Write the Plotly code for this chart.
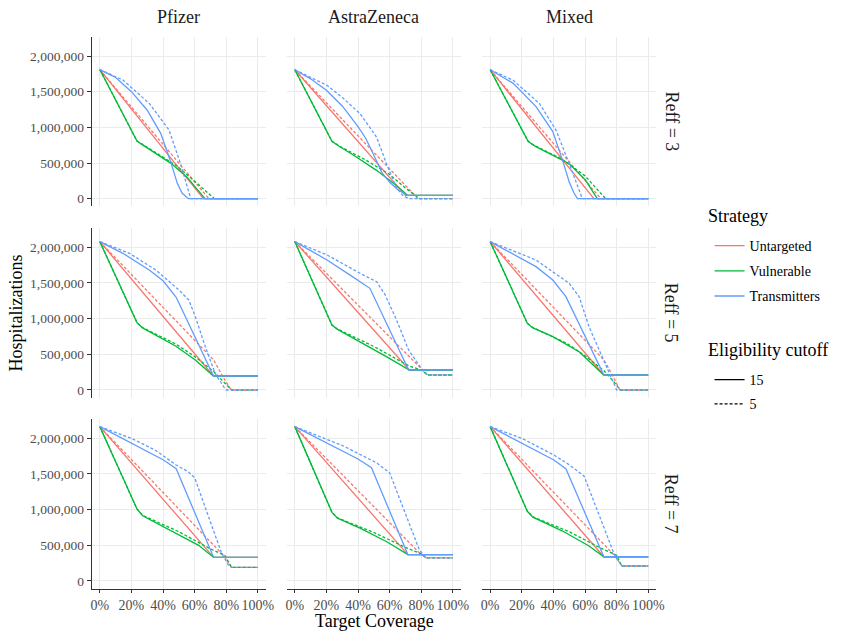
import plotly.graph_objects as go

# ---------------- data (coverage fraction, hospitalizations in thousands) -------------
vaccines = ["Pfizer", "AstraZeneca", "Mixed"]
reffs = [3, 5, 7]
strategies = ["Untargeted", "Vulnerable", "Transmitters"]
cutoffs = [15, 5]
coverage_ticks = [0, 0.2, 0.4, 0.6, 0.8, 1.0]
hosp_ticks = [0, 500000, 1000000, 1500000, 2000000]

# Reff = 3
pf3_unt15 = [(0, 1810), (0.655, 0), (1, 0)]
pf3_unt5 = [(0, 1810), (0.69, 0), (1, 0)]
pf3_vul15 = [(0, 1810), (0.235, 808), (0.28, 740), (0.45, 495), (0.55, 305), (0.665, 0), (1, 0)]
pf3_vul5 = [(0, 1810), (0.235, 808), (0.28, 748), (0.48, 470), (0.6, 245), (0.725, 0), (1, 0)]
pf3_tra15 = [(0, 1810), (0.1, 1700), (0.2, 1500), (0.3, 1240), (0.385, 916), (0.448, 519), (0.49, 215), (0.52, 80), (0.56, 0), (1, 0)]
pf3_tra5 = [(0, 1810), (0.146, 1664), (0.3125, 1336), (0.4375, 963), (0.51, 495), (0.545, 230), (0.575, 0), (1, 0)]

az3_unt15 = [(0, 1808), (0.70, 45), (1, 45)]
az3_unt5 = [(0, 1808), (0.78, 0), (1, 0)]
az3_vul15 = [(0, 1808), (0.235, 804), (0.28, 735), (0.37, 612), (0.517, 397), (0.64, 187), (0.715, 45), (1, 45)]
az3_vul5 = [(0, 1808), (0.235, 804), (0.28, 740), (0.45, 540), (0.6, 340), (0.7, 150), (0.79, 0), (1, 0)]
az3_tra15 = [(0, 1808), (0.1, 1680), (0.2, 1520), (0.3, 1300), (0.4, 1010), (0.45, 840), (0.5, 610), (0.55, 370), (0.6, 230), (0.65, 130), (0.71, 45), (1, 45)]
az3_tra5 = [(0, 1808), (0.204, 1589), (0.3, 1420), (0.4125, 1192), (0.517, 864), (0.58, 490), (0.64, 164), (0.68, 50), (0.72, 0), (1, 0)]

mx3_unt15 = [(0, 1808), (0.656, 0), (1, 0)]
mx3_unt5 = [(0, 1808), (0.70, 0), (1, 0)]
mx3_vul15 = [(0, 1808), (0.24, 804), (0.28, 740), (0.396, 607), (0.5, 490), (0.604, 257), (0.677, 0), (1, 0)]
mx3_vul5 = [(0, 1808), (0.24, 804), (0.28, 745), (0.45, 560), (0.6, 320), (0.73, 0), (1, 0)]
mx3_tra15 = [(0, 1808), (0.146, 1617), (0.29, 1290), (0.396, 940), (0.458, 537), (0.5, 234), (0.53, 80), (0.552, 0), (1, 0)]
mx3_tra5 = [(0, 1808), (0.146, 1659), (0.3125, 1332), (0.417, 958), (0.5, 490), (0.573, 70), (0.583, 0), (1, 0)]

# Reff = 5
pf5_unt15 = [(0, 2080), (0.719, 196), (1, 196)]
pf5_unt5 = [(0, 2080), (0.5625, 794), (0.72, 420), (0.78, 180), (0.83, 0), (1, 0)]
pf5_vul15 = [(0, 2080), (0.235, 944), (0.27, 870), (0.479, 617), (0.604, 421), (0.719, 196), (1, 196)]
pf5_vul5 = [(0, 2080), (0.235, 944), (0.27, 875), (0.48, 645), (0.6, 470), (0.72, 260), (0.78, 120), (0.835, 0), (1, 0)]
pf5_tra15 = [(0, 2080), (0.146, 1916), (0.3125, 1682), (0.4, 1530), (0.483, 1300), (0.719, 196), (1, 196)]
pf5_tra5 = [(0, 2080), (0.1875, 1916), (0.354, 1682), (0.5, 1402), (0.5625, 1262), (0.604, 1028), (0.667, 607), (0.729, 234), (0.79, 23), (0.80, 0), (1, 0)]

az5_unt15 = [(0, 2080), (0.725, 280), (1, 280)]
az5_unt5 = [(0, 2080), (0.8, 300), (0.84, 210), (1, 210)]
az5_vul15 = [(0, 2080), (0.235, 911), (0.27, 850), (0.4125, 678), (0.579, 467), (0.725, 280), (1, 280)]
az5_vul5 = [(0, 2080), (0.235, 911), (0.27, 855), (0.5, 610), (0.72, 340), (0.8, 280), (0.84, 210), (1, 210)]
az5_tra15 = [(0, 2080), (0.204, 1823), (0.35, 1610), (0.475, 1425), (0.72, 280), (1, 280)]
az5_tra5 = [(0, 2080), (0.204, 1893), (0.4125, 1636), (0.517, 1519), (0.57, 1340), (0.64, 1000), (0.72, 560), (0.8, 300), (0.84, 210), (1, 210)]

mx5_unt15 = [(0, 2080), (0.719, 210), (1, 210)]
mx5_unt5 = [(0, 2080), (0.56, 800), (0.72, 420), (0.78, 180), (0.82, 0), (1, 0)]
mx5_vul15 = [(0, 2080), (0.235, 935), (0.27, 870), (0.396, 748), (0.5625, 537), (0.719, 210), (1, 210)]
mx5_vul5 = [(0, 2080), (0.235, 935), (0.27, 875), (0.48, 660), (0.6, 480), (0.72, 270), (0.78, 120), (0.823, 0), (1, 0)]
mx5_tra15 = [(0, 2080), (0.29, 1729), (0.396, 1542), (0.479, 1308), (0.719, 210), (1, 210)]
mx5_tra5 = [(0, 2080), (0.29, 1822), (0.5, 1495), (0.5625, 1308), (0.625, 888), (0.708, 467), (0.79, 47), (0.80, 0), (1, 0)]

# Reff = 7
pf7_unt15 = [(0, 2164), (0.72, 330), (1, 330)]
pf7_unt5 = [(0, 2164), (0.79, 340), (0.833, 190), (1, 190)]
pf7_vul15 = [(0, 2164), (0.235, 1009), (0.271, 915), (0.458, 700), (0.625, 500), (0.72, 330), (1, 330)]
pf7_vul5 = [(0, 2164), (0.235, 1009), (0.271, 920), (0.5, 690), (0.7, 450), (0.79, 360), (0.833, 190), (1, 190)]
pf7_tra15 = [(0, 2164), (0.25, 1870), (0.4, 1700), (0.483, 1573), (0.7125, 343), (0.72, 330), (1, 330)]
pf7_tra5 = [(0, 2164), (0.2, 2000), (0.354, 1830), (0.483, 1625), (0.56, 1530), (0.6, 1446), (0.77, 390), (0.8125, 225), (0.833, 190), (1, 190)]

az7_unt15 = [(0, 2164), (0.715, 370), (1, 370)]
az7_unt5 = [(0, 2164), (0.79, 390), (0.83, 325), (1, 325)]
az7_vul15 = [(0, 2164), (0.235, 962), (0.27, 880), (0.4125, 742), (0.579, 554), (0.715, 370), (1, 370)]
az7_vul5 = [(0, 2164), (0.235, 962), (0.27, 885), (0.5, 680), (0.7, 470), (0.8, 380), (0.83, 325), (1, 325)]
az7_tra15 = [(0, 2164), (0.25, 1880), (0.4, 1710), (0.485, 1587), (0.715, 370), (1, 370)]
az7_tra5 = [(0, 2164), (0.308, 1892), (0.517, 1657), (0.6, 1516), (0.7875, 437), (0.83, 325), (1, 325)]

mx7_unt15 = [(0, 2164), (0.719, 340), (1, 340)]
mx7_unt5 = [(0, 2164), (0.79, 350), (0.833, 210), (1, 210)]
mx7_vul15 = [(0, 2164), (0.235, 977), (0.27, 895), (0.458, 700), (0.625, 490), (0.719, 340), (1, 340)]
mx7_vul5 = [(0, 2164), (0.235, 977), (0.27, 900), (0.5, 690), (0.7, 460), (0.8, 360), (0.833, 210), (1, 210)]
mx7_tra15 = [(0, 2164), (0.25, 1870), (0.4, 1700), (0.479, 1573), (0.719, 340), (1, 340)]
mx7_tra5 = [(0, 2164), (0.2, 2000), (0.4, 1770), (0.5, 1630), (0.594, 1469), (0.79, 343), (0.833, 210), (1, 210)]

series = {
    ("Pfizer", 3): [pf3_unt15, pf3_unt5, pf3_vul15, pf3_vul5, pf3_tra15, pf3_tra5],
    ("AstraZeneca", 3): [az3_unt15, az3_unt5, az3_vul15, az3_vul5, az3_tra15, az3_tra5],
    ("Mixed", 3): [mx3_unt15, mx3_unt5, mx3_vul15, mx3_vul5, mx3_tra15, mx3_tra5],
    ("Pfizer", 5): [pf5_unt15, pf5_unt5, pf5_vul15, pf5_vul5, pf5_tra15, pf5_tra5],
    ("AstraZeneca", 5): [az5_unt15, az5_unt5, az5_vul15, az5_vul5, az5_tra15, az5_tra5],
    ("Mixed", 5): [mx5_unt15, mx5_unt5, mx5_vul15, mx5_vul5, mx5_tra15, mx5_tra5],
    ("Pfizer", 7): [pf7_unt15, pf7_unt5, pf7_vul15, pf7_vul5, pf7_tra15, pf7_tra5],
    ("AstraZeneca", 7): [az7_unt15, az7_unt5, az7_vul15, az7_vul5, az7_tra15, az7_tra5],
    ("Mixed", 7): [mx7_unt15, mx7_unt5, mx7_vul15, mx7_vul5, mx7_tra15, mx7_tra5],
}

# ---------------- styling ----------------
W, H = 850, 637
FONT = "Liberation Serif, Times New Roman, serif"
colors = {"Untargeted": "#F8766D", "Vulnerable": "#00BA38", "Transmitters": "#619CFF"}
dashes = {15: "solid", 5: "3px,2px"}
col_px = [(92, 268), (289.3, 465.3), (487, 663)]
row_px = [(36.6, 206.4), (227.9, 397.7), (418.9, 588.7)]


def px(x):
    return x / W


def py(y):
    return 1 - y / H


ymax = max(v for lst in series.values() for s in lst for _, v in s) * 1000
yrange = [-0.05 * ymax, 1.05 * ymax]

fig = go.Figure()
layout = {}
for r, reff in enumerate(reffs):
    for c, vac in enumerate(vaccines):
        i = r * 3 + c + 1
        xa = "x" if i == 1 else f"x{i}"
        ya = "y" if i == 1 else f"y{i}"
        k = 0
        for strat in strategies:
            for cut in cutoffs:
                pts = series[(vac, reff)][k]
                k += 1
                fig.add_trace(go.Scatter(
                    x=[p[0] for p in pts], y=[p[1] * 1000 for p in pts],
                    mode="lines", xaxis=xa, yaxis=ya, showlegend=False,
                    line=dict(color=colors[strat], width=1.3, dash=dashes[cut]),
                    name=f"{strat} ({cut})", hoverinfo="skip"))
        x0, x1 = col_px[c]
        y0, y1 = row_px[r]
        bottom = r == 2
        left = c == 0
        layout["xaxis" if i == 1 else f"xaxis{i}"] = dict(
            domain=[px(x0), px(x1)], anchor=ya, range=[-0.05, 1.05],
            tickvals=coverage_ticks, tickformat=".0%",
            showgrid=True, gridcolor="#EBEBEB", gridwidth=1.2, zeroline=False,
            showticklabels=bottom, ticks="outside" if bottom else "",
            ticklen=3, tickcolor="#333333", tickwidth=1,
            showline=bottom, linecolor="#333333", linewidth=1.2,
            tickfont=dict(family=FONT, size=14, color="#4D4D4D"))
        layout["yaxis" if i == 1 else f"yaxis{i}"] = dict(
            domain=[py(y1), py(y0)], anchor=xa, range=yrange,
            tickvals=hosp_ticks, tickformat=",d",
            showgrid=True, gridcolor="#EBEBEB", gridwidth=1.2, zeroline=False,
            showticklabels=left, ticks="outside" if left else "",
            ticklen=4, tickcolor="#333333", tickwidth=1,
            showline=left, linecolor="#333333", linewidth=1.2,
            tickfont=dict(family=FONT, size=13.5, color="#4D4D4D"))

# legend entries
for j, strat in enumerate(strategies):
    fig.add_trace(go.Scatter(x=[None], y=[None], mode="lines", name=strat,
                             line=dict(color=colors[strat], width=1.3),
                             legend="legend", legendgroup=f"s{j}", showlegend=True))
for j, cut in enumerate(cutoffs):
    fig.add_trace(go.Scatter(x=[None], y=[None], mode="lines", name=str(cut),
                             line=dict(color="black", width=1.3, dash=dashes[cut]),
                             legend="legend2", legendgroup=f"c{j}", showlegend=True))


def ann(text, x, y, size=18, angle=0, xanchor="center", color="black"):
    return dict(text=text, x=px(x), y=py(y), xref="paper", yref="paper", showarrow=False,
                textangle=angle, xanchor=xanchor, yanchor="middle",
                font=dict(family=FONT, size=size, color=color))


annotations = []
for c, vac in enumerate(vaccines):
    annotations.append(ann(vac, (col_px[c][0] + col_px[c][1]) / 2, 17, color="#1A1A1A"))
for r, reff in enumerate(reffs):
    annotations.append(ann(f"Reff = {reff}", 678, (row_px[r][0] + row_px[r][1]) / 2, angle=90, color="#1A1A1A"))
annotations.append(ann("Hospitalizations", 15, 312.6, angle=-90))
annotations.append(ann("Target Coverage", 377.5, 621))
annotations.append(ann("Strategy", 713, 216, xanchor="left"))
annotations.append(ann("Eligibility cutoff", 713, 350, xanchor="left"))

fig.update_layout(
    width=W, height=H, margin=dict(l=0, r=0, t=0, b=0),
    paper_bgcolor="white", plot_bgcolor="white",
    font=dict(family=FONT, size=14, color="black"),
    annotations=annotations,
    legend=dict(x=px(717), y=py(230), xanchor="left", yanchor="top",
                font=dict(family=FONT, size=14), tracegroupgap=4, bgcolor="rgba(0,0,0,0)"),
    legend2=dict(x=px(717), y=py(364), xanchor="left", yanchor="top",
                 font=dict(family=FONT, size=14), tracegroupgap=3, bgcolor="rgba(0,0,0,0)"),
    **layout,
)

# remove the browser's default 8px page margin so the figure fills the window exactly
fig.write_html("out.html", config={"displayModeBar": False},
               post_script="document.body.style.margin='0px';")
